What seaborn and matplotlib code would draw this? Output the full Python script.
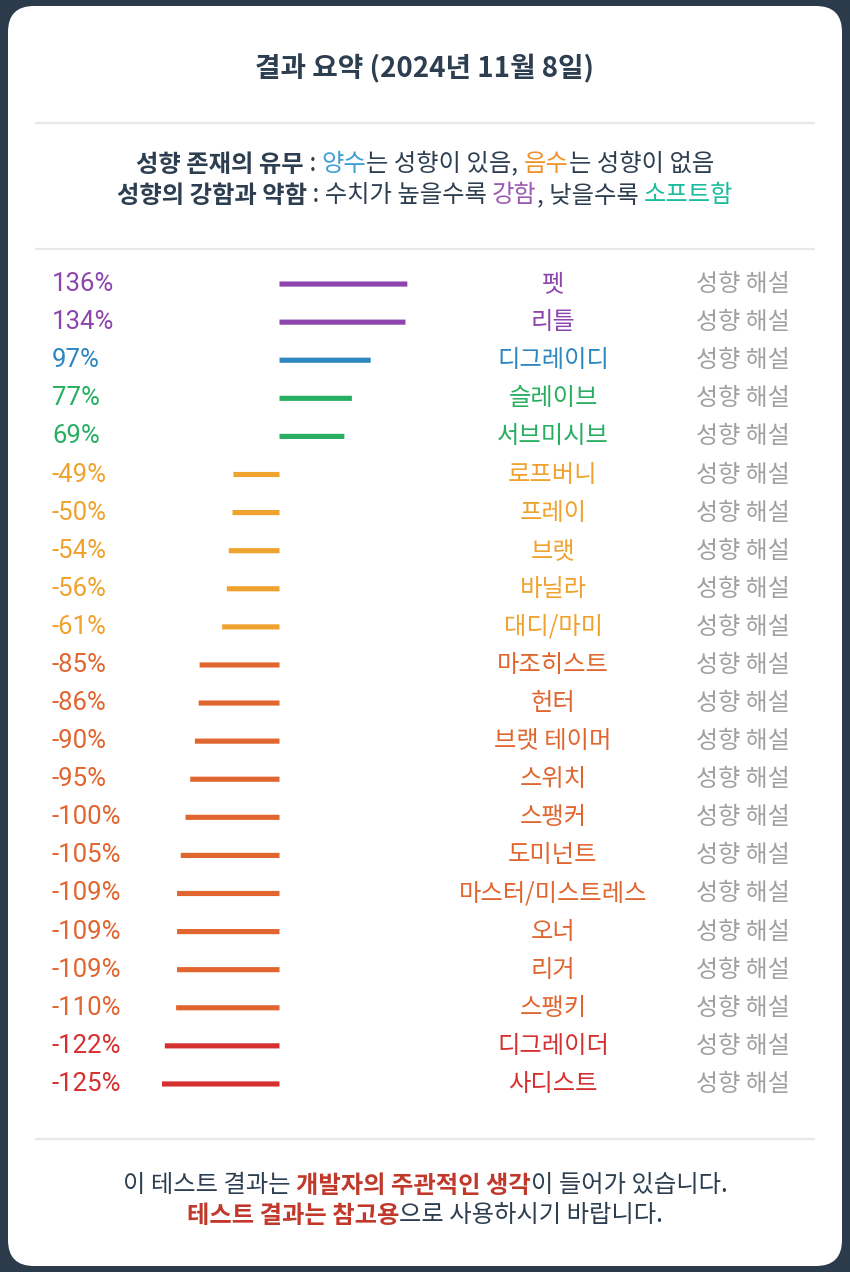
import pandas as pd
import numpy as np
import matplotlib
matplotlib.use("Agg")
import matplotlib.pyplot as plt
import matplotlib.transforms as mtransforms
from matplotlib.patches import FancyBboxPatch
import seaborn as sns

# =====================================
# Data
# =====================================

names = [
    "펫", "리틀", "디그레이디", "슬레이브", "서브미시브",
    "로프버니", "프레이", "브랫", "바닐라", "대디/마미",
    "마조히스트", "헌터", "브랫 테이머", "스위치", "스팽커",
    "도미넌트", "마스터/미스트레스", "오너", "리거", "스팽키",
    "디그레이더", "사디스트",
]
values = [136, 134, 97, 77, 69,
          -49, -50, -54, -56, -61,
          -85, -86, -90, -95, -100,
          -105, -109, -109, -109, -110,
          -122, -125]
groups = ["purple", "purple", "blue", "green", "green",
          "yellow", "yellow", "yellow", "yellow", "yellow",
          "orange", "orange", "orange", "orange", "orange",
          "orange", "orange", "orange", "orange", "orange",
          "red", "red"]

group_colors = {
    "purple": "#8e44ad",
    "blue": "#2e86c1",
    "green": "#27ae60",
    "yellow": "#efa22e",
    "orange": "#e0652f",
    "red": "#d62f2f",
}

title_text = "결과 요약 (2024년 11월 8일)"
link_text = "성향 해설"

# =====================================
# Style
# =====================================

sns.set_theme(style="white")
plt.rcParams["font.family"] = ["Noto Sans CJK KR", "DejaVu Sans"]

DARK = "#2c3e50"
GRAY = "#a0a0a0"

fig = plt.figure(figsize=(8.5, 12.72), dpi=100)
fig.patch.set_facecolor("#2b3b4c")

# background axes in pixel units
bg = fig.add_axes([0, 0, 1, 1])
bg.set_xlim(0, 850)
bg.set_ylim(1272, 0)
bg.axis("off")

card = FancyBboxPatch((8, 6), 834, 1260,
                      boxstyle="round,pad=0,rounding_size=26",
                      facecolor="white", edgecolor="none")
bg.add_patch(card)

for yy in [123, 249, 1139]:
    bg.plot([35, 815], [yy, yy], color="#e8e8e8", lw=1.6,
            solid_capstyle="butt")

bg.text(425, 69, title_text, ha="center", va="center",
        fontsize=20, fontweight="bold", color=DARK)


def rich_line(y, parts, size):
    first = None
    prev = None
    arts = []
    for txt, color, weight in parts:
        if prev is None:
            t = bg.text(0, y, txt, ha="left", va="center", fontsize=size,
                        color=color, fontweight=weight)
            first = t
        else:
            t = bg.annotate(txt, xy=(1, 0), xycoords=prev, ha="left",
                            va="bottom", fontsize=size, color=color,
                            fontweight=weight)
        arts.append(t)
        prev = t
    return first, arts


lines = []
lines.append(rich_line(165, [
    ("성향 존재의 유무", DARK, "bold"),
    (" : ", DARK, "normal"),
    ("양수", "#3f9fd3", "normal"),
    ("는 성향이 있음, ", DARK, "normal"),
    ("음수", "#f0932b", "normal"),
    ("는 성향이 없음", DARK, "normal"),
], 17.5))
lines.append(rich_line(196, [
    ("성향의 강함과 약함", DARK, "bold"),
    (" : 수치가 높을수록 ", DARK, "normal"),
    ("강함", "#9b59b6", "normal"),
    (", 낮을수록 ", DARK, "normal"),
    ("소프트함", "#1abc9c", "normal"),
], 17.5))
lines.append(rich_line(1185, [
    ("이 테스트 결과는 ", DARK, "normal"),
    ("개발자의 주관적인 생각", "#c0392b", "bold"),
    ("이 들어가 있습니다.", DARK, "normal"),
], 17.5))
lines.append(rich_line(1216, [
    ("테스트 결과는 참고용", "#c0392b", "bold"),
    ("으로 사용하시기 바랍니다.", DARK, "normal"),
], 17.5))

# =====================================
# Bars
# =====================================

df = pd.DataFrame({"name": names, "value": values, "group": groups})
palette = {n: group_colors[g] for n, g in zip(names, groups)}

ax = fig.add_axes([40 / 850, 1 - 1103 / 1272, 770 / 850, 838 / 1272])
ax.patch.set_alpha(0)

sns.barplot(data=df, x="value", y="name", hue="name", palette=palette,
            orient="h", width=0.0, saturation=1, legend=False, ax=ax)
for p in ax.patches:
    p.set_edgecolor(p.get_facecolor())
    p.set_linewidth(3.7)
    p.set_snap(False)

zero_px = 279.5
scale = 0.94
ax.set_xlim(-(zero_px - 40) / scale, (810 - zero_px) / scale)
ax.set_ylim(len(names) - 0.5, -0.5)
ax.axis("off")

tr = mtransforms.blended_transform_factory(ax.transAxes, ax.transData)
for i, (n, v, g) in enumerate(zip(names, values, groups)):
    c = group_colors[g]
    ax.text((52 - 40) / 770, i, f"{v}%", transform=tr, ha="left",
            va="center", fontsize=18.5, color=c,
            family=["Roboto", "DejaVu Sans"])
    ax.text((553 - 40) / 770, i, n, transform=tr, ha="center",
            va="center", fontsize=17.5, color=c, fontweight="medium")
    ax.text((743 - 40) / 770, i, link_text, transform=tr, ha="center",
            va="center", fontsize=17.3, color=GRAY)

# center the multi-colour lines
fig.canvas.draw()
for first, arts in lines:
    x0 = arts[0].get_window_extent().x0
    x1 = arts[-1].get_window_extent().x1
    w = x1 - x0
    first.set_x(425 - w / 2)

plt.savefig("out.png", dpi=100, facecolor=fig.get_facecolor())
plt.close()
